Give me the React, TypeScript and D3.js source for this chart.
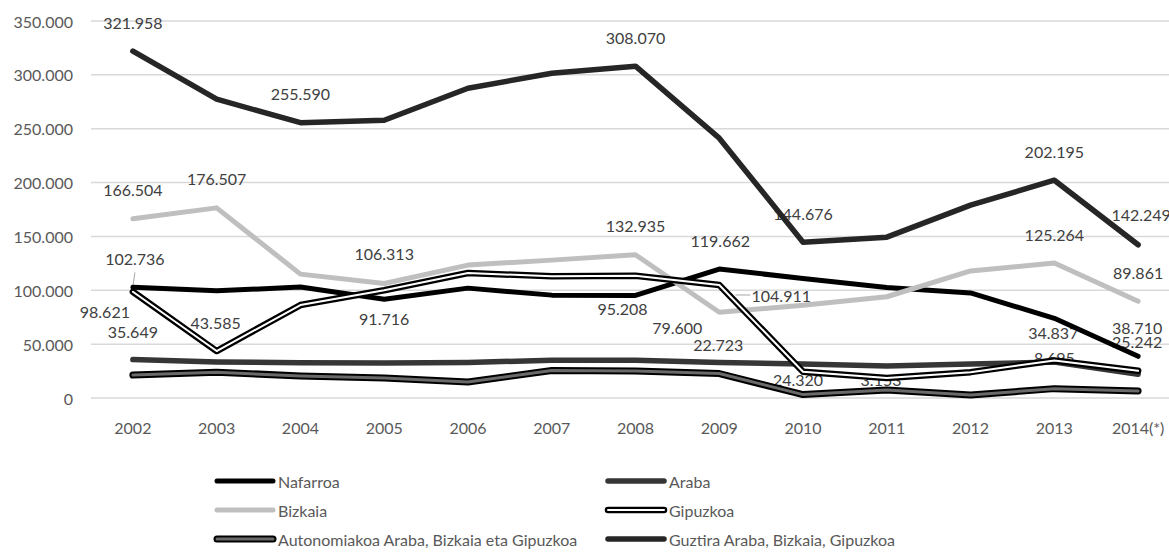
import React from "react";
import * as d3 from "d3";

const years = ["2002", "2003", "2004", "2005", "2006", "2007", "2008", "2009", "2010", "2011", "2012", "2013", "2014(*)"];
const yTicks = [0, 50000, 100000, 150000, 200000, 250000, 300000, 350000];

const nafarroa = [102736, 99500, 103000, 91716, 102000, 95500, 95208, 119662, 111000, 102500, 97500, 74000, 38710];
const araba = [35649, 33400, 32800, 32500, 33000, 35000, 35000, 33000, 31500, 29800, 31500, 33400, 22000];
const bizkaia = [166504, 176507, 115000, 106313, 123400, 128000, 132935, 79600, 86000, 94000, 118000, 125264, 89861];
const gipuzkoa = [98621, 43585, 86300, 100000, 116000, 113000, 113500, 104911, 24320, 18500, 24000, 34837, 25242];
const autonomiakoa = [21300, 24000, 20400, 18500, 14800, 25500, 25000, 22723, 3153, 7400, 2800, 8695, 6500];
const guztira = [321958, 277400, 255590, 257900, 287600, 301500, 308070, 241200, 144676, 149300, 179000, 202195, 142249];

const seriesNames = [
  "Nafarroa",
  "Araba",
  "Bizkaia",
  "Gipuzkoa",
  "Autonomiakoa Araba, Bizkaia eta Gipuzkoa",
  "Guztira Araba, Bizkaia, Gipuzkoa",
];
const seriesValues = [nafarroa, araba, bizkaia, gipuzkoa, autonomiakoa, guztira];

// stroke layers per series: [color, width] from bottom to top
const seriesStyles: [string, number][][] = [
  [["#000000", 5]],
  [["#363636", 5.5]],
  [["#bfbfbf", 5]],
  [["#000000", 6.5], ["#ffffff", 2]],
  [["#000000", 7], ["#6a6a6a", 3]],
  [["#262626", 5.5]],
];

// label placement: series index, point index, offset
const labels: [number, number, number, number][] = [
  [5, 0, 0, -29], [5, 2, 0, -29], [5, 6, 0, -29], [5, 8, 0, -29], [5, 11, 0, -29], [5, 12, 3, -30],
  [2, 0, 0, -29], [2, 1, 0, -29], [2, 3, 0, -30], [2, 6, 0, -29], [2, 11, 0, -29], [2, 12, 0, -29], [2, 7, -42, 15],
  [0, 0, 2, -29], [0, 3, 0, 19], [0, 6, -13, 13], [0, 7, 1, -29], [0, 12, -1, -29],
  [3, 0, -28, 20], [3, 1, -1, -29], [3, 7, 62, 11], [3, 8, -5, 8], [3, 11, -1, -28], [3, 12, -1, -29],
  [1, 0, 0, -28],
  [4, 7, -1, -29], [4, 8, 78, -15], [4, 11, 0, -31],
];
const leaderLabels = ["0-0", "3-7"];

const fmt = (v: number) => d3.format(",")(v).replace(/,/g, ".");

export default function App() {
  const W = 1169;
  const H = 559;
  const left = 91;
  const right = 1180;
  const top = 21;
  const bottom = 398;
  const font = "Lato, 'Open Sans', sans-serif";

  const x = d3.scalePoint<string>().domain(years).range([left, right]).padding(0.5);
  const y = d3.scaleLinear().domain([0, 350000]).range([bottom, top]);
  const line = d3
    .line<number>()
    .x((_, i) => x(years[i]) as number)
    .y((d) => y(d));

  const legendCols = [217, 608];
  const legendRows = [481, 510, 539];

  return (
    <svg
      width={W}
      height={H}
      style={{ position: "absolute", left: 0, top: 0, display: "block", background: "#fff" }}
      fontFamily={font}
    >
      <rect x={0} y={0} width={W} height={H} fill="#fff" />
      {yTicks.map((t) => (
        <g key={t}>
          <line x1={left} x2={right} y1={y(t)} y2={y(t)} stroke="#d9d9d9" strokeWidth={1.5} />
          <text x={73} y={y(t)} textAnchor="end" dominantBaseline="central" fontSize={16} fill="#595959">
            {fmt(t)}
          </text>
        </g>
      ))}
      {years.map((yr) => (
        <text key={yr} x={x(yr)} y={427} textAnchor="middle" dominantBaseline="central" fontSize={16} fill="#595959">
          {yr}
        </text>
      ))}
      {labels.map(([s, i, dx, dy]) => {
        const px = x(years[i]) as number;
        const py = y(seriesValues[s][i]);
        const lx = px + dx;
        const ly = py + dy;
        const key = `${s}-${i}`;
        const hasLeader = leaderLabels.includes(key);
        let leader = null;
        if (hasLeader) {
          if (Math.abs(dx) > Math.abs(dy)) {
            leader = <line x1={lx - 31} y1={ly - 1} x2={lx - 46} y2={ly - 1} stroke="#a6a6a6" strokeWidth={1} />;
          } else {
            leader = <line x1={lx} y1={ly + 14} x2={px} y2={py} stroke="#a6a6a6" strokeWidth={1} />;
          }
        }
        return (
          <g key={key}>
            {leader}
            <text x={lx} y={ly} textAnchor="middle" dominantBaseline="central" fontSize={16} fill="#404040">
              {fmt(seriesValues[s][i])}
            </text>
          </g>
        );
      })}
      {seriesValues.map((vals, s) => (
        <g key={seriesNames[s]}>
          {seriesStyles[s].map(([c, w], k) => (
            <path
              key={k}
              d={line(vals) || ""}
              fill="none"
              stroke={c}
              strokeWidth={w}
              strokeLinejoin="round"
              strokeLinecap="round"
            />
          ))}
        </g>
      ))}
      {seriesNames.map((name, s) => {
        const cx = legendCols[s % 2];
        const cy = legendRows[Math.floor(s / 2)];
        return (
          <g key={name}>
            {seriesStyles[s].map(([c, w], k) => (
              <line key={k} x1={cx} x2={cx + 56} y1={cy} y2={cy} stroke={c} strokeWidth={w} strokeLinecap="round" />
            ))}
            <text x={cx + 61} y={cy} dominantBaseline="central" fontSize={16} fill="#595959">
              {name}
            </text>
          </g>
        );
      })}
    </svg>
  );
}
